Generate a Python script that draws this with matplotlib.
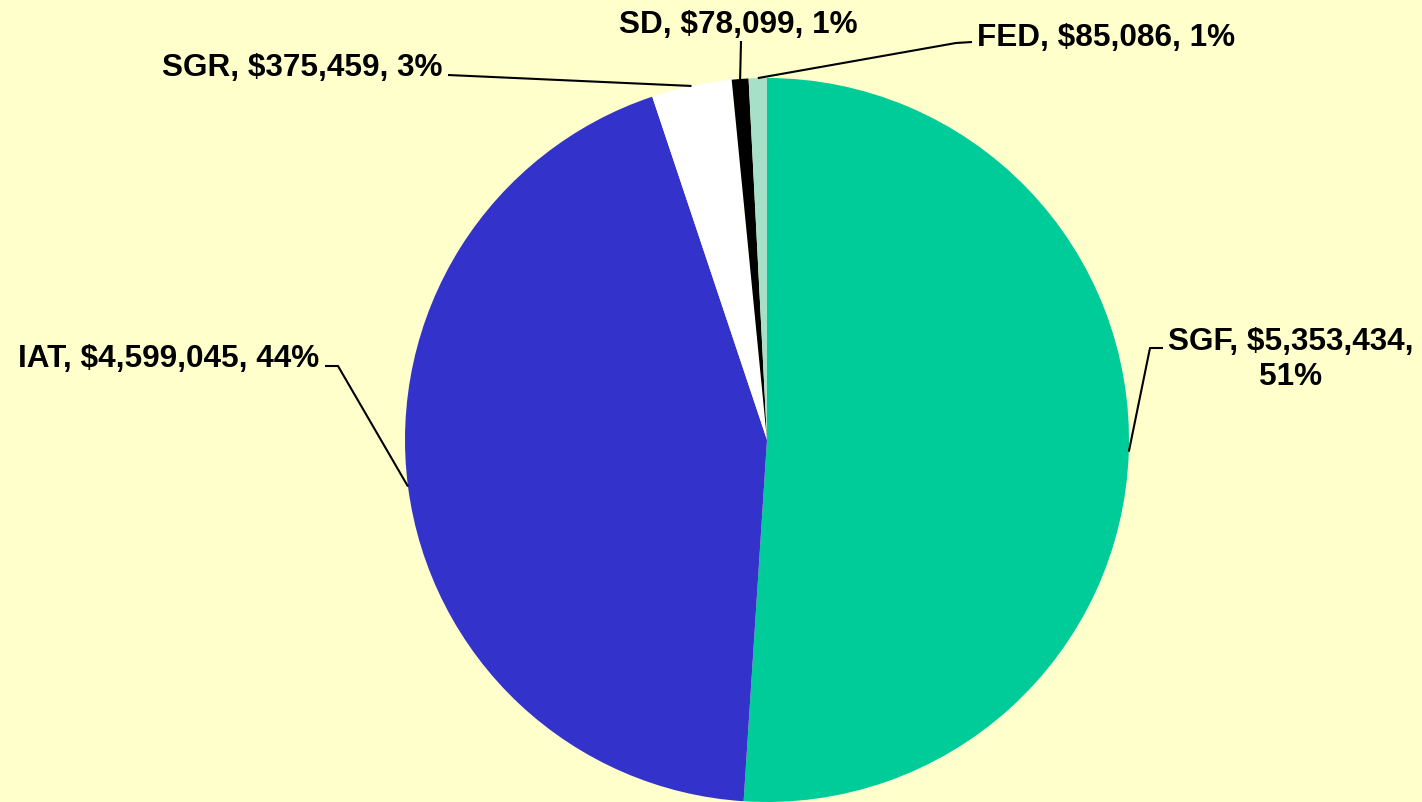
import numpy as np
import matplotlib.pyplot as plt

# -- Data --
funds = ["SGF", "IAT", "SGR", "SD", "FED"]
amounts = [5353434, 4599045, 375459, 78099, 85086]
percents = [51, 44, 3, 1, 1]  # as printed on the chart
colors = ["#00CC99", "#3333CC", "#FFFFFF", "#000000", "#A6E0C9"]

bg = "#FFFFCC"
W, H = 1422, 802

fig = plt.figure(figsize=(W / 100, H / 100), dpi=100, facecolor=bg)
ax = fig.add_axes([0, 0, 1, 1])
ax.set_facecolor(bg)

# pie in pixel-like coords (y up)
cx, cy, r = 767, H - 440, 362
wedges, _ = ax.pie(amounts, colors=colors, startangle=90, counterclock=False,
                   center=(cx, cy), radius=r, wedgeprops=dict(linewidth=0))
ax.set_xlim(0, W)
ax.set_ylim(0, H)
ax.set_aspect("equal")
ax.axis("off")

labels = [f"{f}, ${a:,}, {p}%" for f, a, p in zip(funds, amounts, percents)]

# label layout: text pos (pixel, y from top, last-line baseline), alignment, leader waypoints
layout = {
    "SGF": dict(xy=(1291, 385), ha="center", pts=[(1150, 348), (1163, 348)]),
    "IAT": dict(xy=(319, 367), ha="right", pts=[(338, 366), (325, 366)]),
    "SGR": dict(xy=(443, 76), ha="right", pts=[(448, 75)]),
    "SD": dict(xy=(738, 33), ha="center", pts=[(741, 41)]),
    "FED": dict(xy=(977, 46), ha="left", pts=[(956, 43), (972, 42)]),
}

for w, f, lab in zip(wedges, funds, labels):
    mid = np.deg2rad((w.theta1 + w.theta2) / 2)
    ex, ey = cx + r * np.cos(mid), cy + r * np.sin(mid)
    lo = layout[f]
    if f == "SGF":
        lab = lab.replace("434, ", "434,\n")
    xs = [ex] + [p[0] for p in lo["pts"]]
    ys = [ey] + [H - p[1] for p in lo["pts"]]
    ax.plot(xs, ys, color="black", lw=1.5, solid_capstyle="butt")
    ax.text(lo["xy"][0], H - lo["xy"][1], lab, ha=lo["ha"], va="baseline",
            fontsize=22.7, fontweight="bold", family="Liberation Sans",
            multialignment="center", linespacing=1.2)

fig.savefig("out.png", dpi=100, facecolor=bg)
